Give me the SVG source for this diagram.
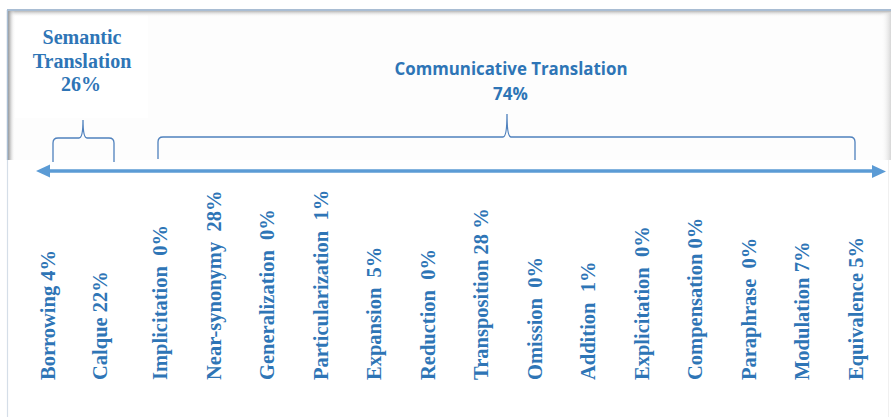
<svg xmlns="http://www.w3.org/2000/svg" width="891" height="417" viewBox="0 0 891 417">
  <defs>
    <style>
      .head { font-family: "Liberation Serif", "Times New Roman", serif; font-weight: bold; font-size: 20px; fill: #2E75B6; text-anchor: middle; }
      .comm { font-family: "Open Sans", "Lato", sans-serif; font-weight: bold; font-size: 17px; fill: #2E75B6; text-anchor: middle; }
      .lbl { font-family: "Liberation Serif", "Times New Roman", serif; font-weight: bold; font-size: 20.5px; fill: #2E75B6; white-space: pre; }
      .brace { fill: none; stroke: #4F81BD; stroke-width: 1.3; }
      .axis { stroke: #5B9BD5; stroke-width: 3.5; fill: none; }
      .tip { fill: #5B9BD5; }
    </style>
    <linearGradient id="shadeTop" x1="0" y1="0" x2="0" y2="1">
      <stop offset="0" stop-color="#b8b8b8"/>
      <stop offset="1" stop-color="#ffffff" stop-opacity="0"/>
    </linearGradient>
    <linearGradient id="shadeLeft" x1="0" y1="0" x2="1" y2="0">
      <stop offset="0" stop-color="#8e8e8e"/>
      <stop offset="1" stop-color="#ffffff" stop-opacity="0"/>
    </linearGradient>
    <linearGradient id="shadeRight" x1="0" y1="0" x2="1" y2="0">
      <stop offset="0" stop-color="#ffffff" stop-opacity="0"/>
      <stop offset="1" stop-color="#d6d6d6"/>
    </linearGradient>
  </defs>

  <rect x="0" y="0" width="891" height="417" fill="#ffffff"/>

  <!-- framed header panel -->
  <g id="frame">
    <rect x="8" y="11" width="883" height="149" fill="#fdfdfd"/>
    <rect x="15" y="15" width="133" height="103" fill="#ffffff"/>
    <rect x="8" y="11" width="883" height="6" fill="url(#shadeTop)"/>
    <rect x="8" y="11" width="7" height="149" fill="url(#shadeLeft)"/>
    <rect x="881" y="13" width="10" height="147" fill="url(#shadeRight)"/>
    <line x1="7" y1="10" x2="891" y2="10" stroke="#a9bdd3" stroke-width="2"/>
    <line x1="7.5" y1="10" x2="7.5" y2="160" stroke="#a9bdd3" stroke-width="1.5"/>
    <line x1="7.5" y1="160" x2="7.5" y2="417" stroke="#d5dee8" stroke-width="1.2"/>
    <line x1="888.5" y1="160" x2="888.5" y2="417" stroke="#f0f0f0" stroke-width="1"/>
  </g>

  <g id="semantic">
    <text class="head" x="82" y="44">Semantic</text>
    <text class="head" x="82" y="68">Translation</text>
    <text class="head" x="81" y="91">26%</text>
  </g>

  <g id="communicative">
    <text class="comm" x="511" y="75" textLength="233" lengthAdjust="spacingAndGlyphs">Communicative Translation</text>
    <text class="comm" x="510.5" y="100">74%</text>
  </g>

  <g id="connectors">
    <!-- braces grouping the procedures -->
    <path class="brace" d="M53,162 V143 Q53,138 58,138 H79 Q83,138 83,120 Q83,138 87,138 H109 Q114,138 114,143 V162"/>
    <path class="brace" d="M158,159 V142 Q158,137 163,137 H503 Q507,137 507,114 Q507,137 511,137 H850 Q855,137 855,142 V160"/>
    <!-- double-headed axis -->
    <line class="axis" x1="48" y1="171" x2="874" y2="171"/>
    <polygon class="tip" points="36,171 50,164.5 50,177.5"/>
    <polygon class="tip" points="886,171.5 872,165 872,178"/>
  </g>

  <g id="procedures">
    <text class="lbl" transform="translate(55,380) rotate(-90)">Borrowing 4%</text>
    <text class="lbl" transform="translate(107,380) rotate(-90)">Calque 22%</text>
    <text class="lbl" transform="translate(167,380) rotate(-90)">Implicitation  0%</text>
    <text class="lbl" transform="translate(220.5,380) rotate(-90)">Near-synonymy  28%</text>
    <text class="lbl" transform="translate(274,380) rotate(-90)">Generalization  0%</text>
    <text class="lbl" transform="translate(327.5,380) rotate(-90)">Particularization  1%</text>
    <text class="lbl" transform="translate(381,380) rotate(-90)">Expansion  5%</text>
    <text class="lbl" transform="translate(434.5,380) rotate(-90)">Reduction  0%</text>
    <text class="lbl" transform="translate(488,380) rotate(-90)">Transposition 28 %</text>
    <text class="lbl" transform="translate(541.5,380) rotate(-90)">Omission  0%</text>
    <text class="lbl" transform="translate(595,380) rotate(-90)">Addition  1%</text>
    <text class="lbl" transform="translate(648.5,380) rotate(-90)">Explicitation  0%</text>
    <text class="lbl" transform="translate(702,380) rotate(-90)">Compensation 0%</text>
    <text class="lbl" transform="translate(755.5,380) rotate(-90)">Paraphrase  0%</text>
    <text class="lbl" transform="translate(809,380) rotate(-90)">Modulation 7%</text>
    <text class="lbl" transform="translate(862.5,380) rotate(-90)">Equivalence 5%</text>
  </g>
</svg>
